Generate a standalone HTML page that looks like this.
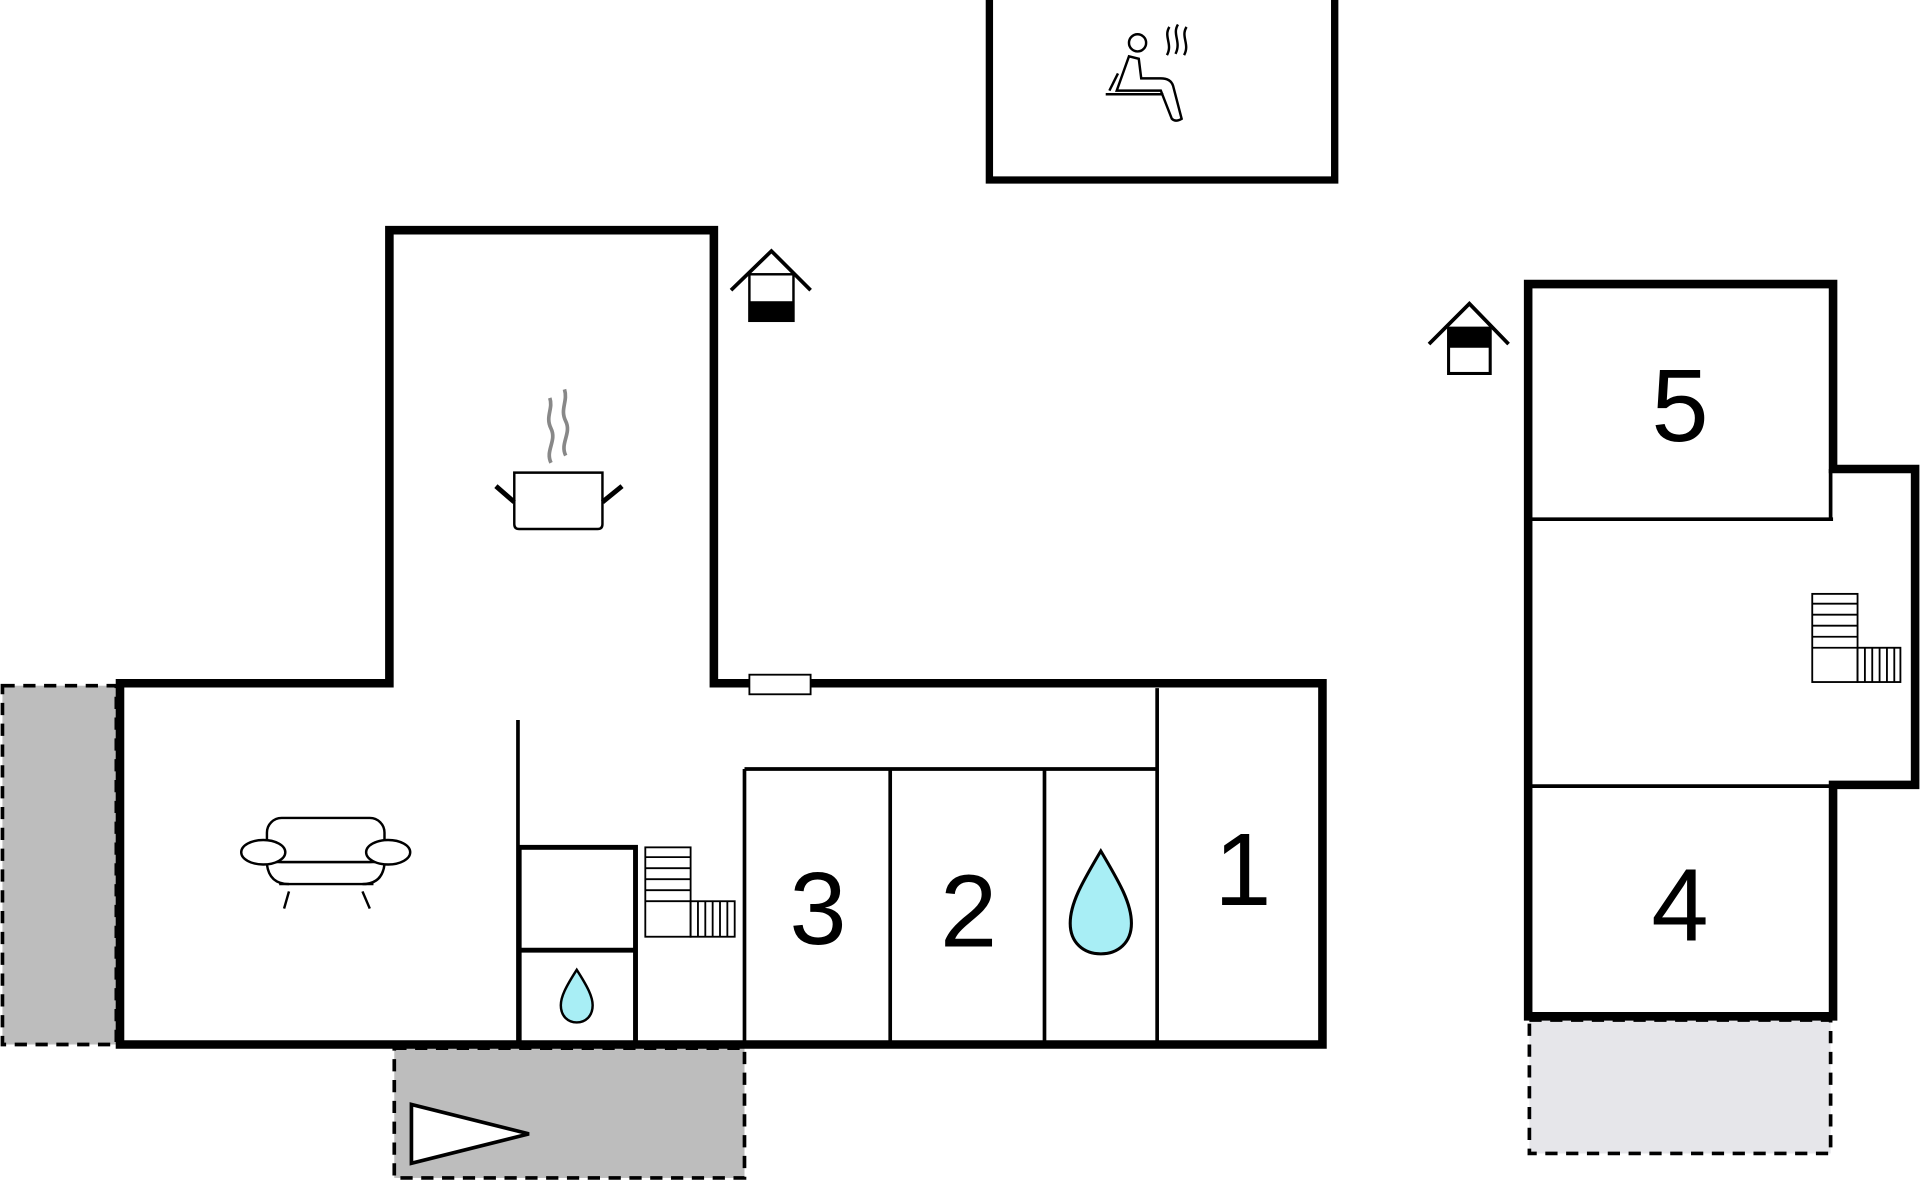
<!DOCTYPE html>
<html><head><meta charset="utf-8"><style>html,body{margin:0;padding:0;background:#fff}svg{display:block}</style></head>
<body>
<svg width="1920" height="1200" viewBox="0 0 1568 980" xmlns="http://www.w3.org/2000/svg" font-family="Liberation Sans, sans-serif">
<rect x="0" y="0" width="1568" height="980" fill="#fff"/>
<!-- gray areas -->
<rect x="2" y="560" width="93" height="293" fill="#bdbdbd" stroke="#000" stroke-width="3" stroke-dasharray="10,7"/>
<rect x="322" y="856" width="286" height="106" fill="#bdbdbd" stroke="#000" stroke-width="3" stroke-dasharray="10,7"/>
<polygon points="336,902 336,950 432,926" fill="#fff" stroke="#000" stroke-width="3"/>
<rect x="1249" y="833" width="246" height="109" fill="#e6e6ea" stroke="#000" stroke-width="3" stroke-dasharray="10,7"/>
<!-- main building -->
<polygon points="98,558 318,558 318,188 583,188 583,558 1080,558 1080,853 98,853" fill="#fff" stroke="#000" stroke-width="7"/>
<g stroke="#000" stroke-width="3" fill="none">
<line x1="423" y1="588" x2="423" y2="853"/>
<rect x="424" y="692" width="95" height="161" stroke-width="4"/>
<line x1="424" y1="776" x2="519" y2="776" stroke-width="4"/>
<line x1="608" y1="628" x2="608" y2="853"/>
<line x1="608" y1="628" x2="945" y2="628"/>
<line x1="945" y1="562" x2="945" y2="853"/>
<line x1="727" y1="628" x2="727" y2="853"/>
<line x1="853" y1="628" x2="853" y2="853"/>
</g>
<rect x="612" y="551" width="50" height="16" fill="#fff" stroke="#000" stroke-width="1.5"/>
<!-- stairs left -->
<g stroke="#000" stroke-width="1.5" fill="none">
<rect x="527" y="692" width="37" height="73"/>
<rect x="564" y="736" width="36" height="29"/>
<line x1="527" y1="700" x2="564" y2="700"/><line x1="527" y1="709" x2="564" y2="709"/><line x1="527" y1="718" x2="564" y2="718"/><line x1="527" y1="727" x2="564" y2="727"/><line x1="527" y1="736" x2="564" y2="736"/>
<line x1="570" y1="736" x2="570" y2="765"/><line x1="576" y1="736" x2="576" y2="765"/><line x1="582" y1="736" x2="582" y2="765"/><line x1="588" y1="736" x2="588" y2="765"/><line x1="594" y1="736" x2="594" y2="765"/>
</g>
<!-- drops -->
<path d="M471,792 C480,806 484,814 484,821 C484,830 478,835 471,835 C464,835 458,830 458,821 C458,814 462,806 471,792 Z" fill="#a8eef5" stroke="#000" stroke-width="2"/>
<path d="M899,695 C915,722 924,738 924,754 C924,770 913,779 899,779 C885,779 874,770 874,754 C874,738 883,722 899,695 Z" fill="#a8eef5" stroke="#000" stroke-width="2.5"/>
<!-- numbers -->
<g font-size="84" text-anchor="middle" fill="#000">
<text x="668" y="771">3</text>
<text x="791" y="773">2</text>
<text x="1015" y="739">1</text>
<text x="1372" y="360">5</text>
<text x="1372" y="768">4</text>
</g>
<!-- sofa -->
<g stroke="#000" stroke-width="2" fill="#fff">
<rect x="218" y="668" width="96" height="36" rx="12"/>
<line x1="218" y1="704" x2="314" y2="704"/>
<ellipse cx="215" cy="696" rx="18" ry="10"/>
<ellipse cx="317" cy="696" rx="18" ry="10"/>
<line x1="228" y1="722" x2="305" y2="722"/>
<path d="M218,706 Q220,722 236,722 M314,706 Q312,722 296,722" fill="none"/>
<line x1="236" y1="728" x2="232" y2="742"/><line x1="296" y1="728" x2="302" y2="742"/>
</g>
<!-- pot -->
<g stroke="#000" stroke-width="2" fill="#fff">
<path d="M420,386 L492,386 L492,428 Q492,432 488,432 L424,432 Q420,432 420,428 Z"/>
<line x1="420" y1="410" x2="405" y2="397" stroke-width="4"/>
<line x1="492" y1="410" x2="508" y2="397" stroke-width="4"/>
</g>
<g stroke="#888" stroke-width="3" fill="none">
<path d="M450,378 C445,368 455,360 450,350 C445,340 452,334 449,325"/>
<path d="M462,372 C457,362 467,354 462,344 C457,334 464,328 461,318"/>
</g>
<!-- sauna -->
<polyline points="808,0 808,147 1090,147 1090,0" fill="none" stroke="#000" stroke-width="6"/>
<g stroke="#000" stroke-width="2" fill="none">
<circle cx="929" cy="35" r="7"/>
<path d="M922,46 L912,74 L948,74 L957,97 Q960,100 965,97 L958,70 Q956,64 948,64 L932,64 L930,48 Z"/>
<line x1="903" y1="77" x2="950" y2="77"/>
<line x1="913" y1="60" x2="906" y2="74"/>
<path d="M955,22 C950,30 958,36 953,45 M962,20 C957,28 965,34 960,44 M969,22 C964,30 972,36 967,45"/>
</g>
<!-- house icons -->
<g stroke="#000" stroke-width="3" fill="none">
<polyline points="597,237 630,205 662,237"/>
<polyline points="1167,281 1200,248 1232,281"/>
</g>
<rect x="612" y="224" width="36" height="38" fill="#fff" stroke="#000" stroke-width="2"/>
<rect x="612" y="246" width="36" height="16" fill="#000"/>
<rect x="1183" y="268" width="34" height="37" fill="#fff" stroke="#000" stroke-width="2.5"/>
<rect x="1183" y="268" width="34" height="16" fill="#000"/>
<!-- right building -->
<polygon points="1248,232 1497,232 1497,383 1564,383 1564,641 1497,641 1497,830 1248,830" fill="none" stroke="#000" stroke-width="7"/>
<g stroke="#000" stroke-width="3">
<line x1="1250" y1="424" x2="1497" y2="424"/>
<line x1="1495" y1="383" x2="1495" y2="424"/>
<line x1="1250" y1="642" x2="1497" y2="642"/>
</g>
<g stroke="#000" stroke-width="1.5" fill="none">
<rect x="1480" y="485" width="37" height="72"/>
<rect x="1517" y="529" width="35" height="28"/>
<line x1="1480" y1="493" x2="1517" y2="493"/><line x1="1480" y1="502" x2="1517" y2="502"/><line x1="1480" y1="511" x2="1517" y2="511"/><line x1="1480" y1="520" x2="1517" y2="520"/><line x1="1480" y1="529" x2="1517" y2="529"/>
<line x1="1523" y1="529" x2="1523" y2="557"/><line x1="1529" y1="529" x2="1529" y2="557"/><line x1="1535" y1="529" x2="1535" y2="557"/><line x1="1541" y1="529" x2="1541" y2="557"/><line x1="1547" y1="529" x2="1547" y2="557"/>
</g>
</svg>
</body></html>
